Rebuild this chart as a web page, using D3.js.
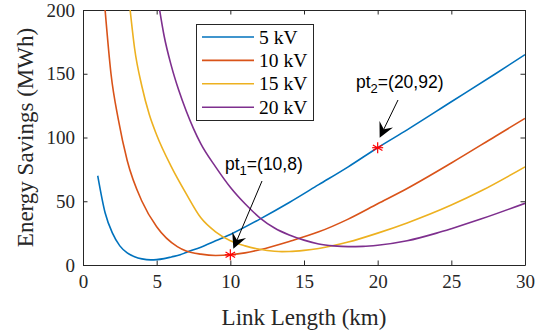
<!DOCTYPE html>
<html>
<head>
<meta charset="utf-8">
<script src="https://cdn.jsdelivr.net/npm/d3@7"></script>
<style>
  html, body { margin: 0; padding: 0; background: #fff; }
  svg { display: block; }
</style>
</head>
<body>
<svg id="chart" width="546" height="330"></svg>
<script>
// Energy savings vs. link length for four feeder voltages
const seriesNames = ["5 kV", "10 kV", "15 kV", "20 kV"];
const seriesColors = ["#0072BD", "#D95319", "#EDB120", "#7E2F8E"];

const x5  = [1, 1.5, 2, 2.5, 3, 3.5, 4, 4.6, 5, 5.5, 6, 6.6, 7, 8, 9, 10, 12, 14, 16, 18, 20, 22, 25, 28, 30];
const y5  = [70, 41, 25, 15, 9.5, 6.5, 4.8, 4, 4.2, 5, 6.3, 8, 9.8, 14, 19, 24, 36, 49, 63, 77, 92, 106, 128, 150, 165];

const x10 = [1.5, 1.9, 2.4, 3, 4, 5, 6.4, 7, 8, 9, 10, 11, 12, 14, 16, 18, 20, 22, 25, 28, 30];
const y10 = [200, 150, 114, 82, 50, 30, 14.4, 11, 8.5, 7.5, 8, 9.5, 12, 18.5, 26, 36, 48, 60, 80, 101, 115];

const x15 = [3.2, 3.5, 4, 4.5, 5, 6, 7, 8, 9, 10, 11, 12, 13, 13.5, 14, 15, 16, 18, 20, 22, 25, 27, 30];
const y15 = [200, 170, 140, 118, 102, 77, 56, 37, 26, 19, 15, 12.3, 10.8, 10.5, 10.6, 11.5, 13, 18, 25, 33, 47, 58, 77];

const x20 = [5.2, 5.5, 6, 6.5, 7, 7.5, 8, 9, 10, 11, 12, 13, 14, 15, 16, 17, 18, 19, 20, 22, 24, 25, 27, 30];
const y20 = [200, 180, 156, 137, 121, 107, 95, 77, 61, 48, 37, 29, 23.5, 19.5, 16.5, 15, 14.4, 14.6, 15.5, 19, 25, 28.5, 36, 48.4];

const seriesX = [x5, x10, x15, x20];
const seriesY = [y5, y10, y15, y20];

// Highlighted operating points
const markX = [10, 20];
const markY = [8, 92];
const markSub = ["1", "2"];

const xTicks = [0, 5, 10, 15, 20, 25, 30];
const yTicks = [0, 50, 100, 150, 200];

const svg = d3.select("#chart");
const m = { left: 83, right: 525, top: 10, bottom: 265 };

const x = d3.scaleLinear().domain([0, 30]).range([m.left, m.right]);
const y = d3.scaleLinear().domain([0, 200]).range([m.bottom, m.top]);

const axisColor = "#262626";
const serif = "'Liberation Serif', 'Times New Roman', serif";
const sans = "'Liberation Sans', Arial, Helvetica, sans-serif";

svg.append("defs").append("clipPath").attr("id", "plotClip")
  .append("rect")
  .attr("x", m.left).attr("y", m.top)
  .attr("width", m.right - m.left).attr("height", m.bottom - m.top);

// Axes with inward ticks, mirrored on the top and right
const tickLen = 4.5;
const bottomAxis = d3.axisBottom(x).tickValues(xTicks).tickSizeInner(-tickLen).tickSizeOuter(0).tickPadding(10);
const topAxis = d3.axisTop(x).tickValues(xTicks).tickSizeInner(-tickLen).tickSizeOuter(0).tickFormat("");
const leftAxis = d3.axisLeft(y).tickValues(yTicks).tickSizeInner(-tickLen).tickSizeOuter(0).tickPadding(8);
const rightAxis = d3.axisRight(y).tickValues(yTicks).tickSizeInner(-tickLen).tickSizeOuter(0).tickFormat("");

function styleAxis(g) {
  g.select(".domain").attr("stroke", axisColor).attr("stroke-width", 1);
  g.selectAll(".tick line").attr("stroke", axisColor).attr("stroke-width", 1);
  g.selectAll(".tick text").attr("fill", axisColor)
    .style("font-family", serif).style("font-size", "19px");
}

svg.append("g").attr("transform", `translate(0,${m.bottom})`).call(bottomAxis).call(styleAxis);
svg.append("g").attr("transform", `translate(0,${m.top})`).call(topAxis).call(styleAxis);
svg.append("g").attr("transform", `translate(${m.left},0)`).call(leftAxis).call(styleAxis);
svg.append("g").attr("transform", `translate(${m.right},0)`).call(rightAxis).call(styleAxis);

// Curves
const line = d3.line()
  .x(d => x(d[0]))
  .y(d => y(d[1]))
  .curve(d3.curveMonotoneX);

const plot = svg.append("g").attr("clip-path", "url(#plotClip)");
seriesX.forEach((xs, i) => {
  const pts = xs.map((v, j) => [v, seriesY[i][j]]);
  plot.append("path")
    .datum(pts)
    .attr("d", line)
    .attr("fill", "none")
    .attr("stroke", seriesColors[i])
    .attr("stroke-width", 1.6);
});

// Star markers (asterisk made of four strokes)
markX.forEach((v, i) => {
  const g = svg.append("g").attr("transform", `translate(${x(v)},${y(markY[i])})`);
  const r = 5.5;
  [0, 60, 120].forEach(a => {
    const rad = a * Math.PI / 180;
    g.append("line")
      .attr("x1", -r * Math.sin(rad)).attr("y1", -r * Math.cos(rad))
      .attr("x2", r * Math.sin(rad)).attr("y2", r * Math.cos(rad))
      .attr("stroke", "#FF0000").attr("stroke-width", 1.2);
  });
  g.append("line").attr("x1", -r).attr("x2", r).attr("y1", 0).attr("y2", 0)
    .attr("stroke", "#FF0000").attr("stroke-width", 1.2);
});

// Annotation arrows pointing at the marked points
function arrow(x1, y1, x2, y2) {
  const ang = Math.atan2(y2 - y1, x2 - x1);
  const len = 15, half = 7.5, back = 5.5;
  const ux = Math.cos(ang), uy = Math.sin(ang);
  const px = -uy, py = ux;
  const bx = x2 - ux * len, by = y2 - uy * len;
  const nx = x2 - ux * (len - back), ny = y2 - uy * (len - back);
  svg.append("line")
    .attr("x1", x1).attr("y1", y1).attr("x2", nx).attr("y2", ny)
    .attr("stroke", "#000").attr("stroke-width", 1);
  svg.append("path")
    .attr("d", `M${x2},${y2} L${bx + px * half},${by + py * half} L${nx},${ny} L${bx - px * half},${by - py * half} Z`)
    .attr("fill", "#000");
}

const arrowFrom = [[262, 181], [398, 100]];
const arrowTip = [[x(markX[0]) + 3, y(markY[0]) - 6], [x(markX[1]) + 2, y(markY[1]) - 10]];
arrowFrom.forEach((f, i) => arrow(f[0], f[1], arrowTip[i][0], arrowTip[i][1]));

const labelPos = [[225, 170], [356, 88]];
markX.forEach((v, i) => {
  const t = svg.append("text")
    .attr("x", labelPos[i][0]).attr("y", labelPos[i][1])
    .attr("fill", "#000")
    .style("font-family", sans).style("font-size", "17.5px");
  t.append("tspan").text("pt");
  t.append("tspan").attr("dy", 5).style("font-size", "13px").text(markSub[i]);
  t.append("tspan").attr("dy", -5).text(`=(${v},${markY[i]})`);
});

// Legend
const lg = svg.append("g");
lg.append("rect")
  .attr("x", 196.5).attr("y", 24.5).attr("width", 117).attr("height", 96)
  .attr("fill", "#fff").attr("stroke", axisColor).attr("stroke-width", 1);
seriesNames.forEach((name, i) => {
  const cy = 37 + i * 23.4;
  lg.append("line")
    .attr("x1", 202).attr("x2", 254).attr("y1", cy).attr("y2", cy)
    .attr("stroke", seriesColors[i]).attr("stroke-width", 1.6);
  lg.append("text")
    .attr("x", 259).attr("y", cy + 6.5)
    .attr("fill", "#000")
    .style("font-family", serif).style("font-size", "19.5px")
    .text(name);
});

// Axis titles
svg.append("text")
  .attr("x", (m.left + m.right) / 2).attr("y", 325)
  .attr("text-anchor", "middle").attr("fill", axisColor)
  .style("font-family", serif).style("font-size", "23px")
  .text("Link Length (km)");

svg.append("text")
  .attr("transform", `translate(33,${(m.top + m.bottom) / 2}) rotate(-90)`)
  .attr("text-anchor", "middle").attr("fill", axisColor)
  .style("font-family", serif).style("font-size", "23px")
  .text("Energy Savings (MWh)");
</script>
</body>
</html>
